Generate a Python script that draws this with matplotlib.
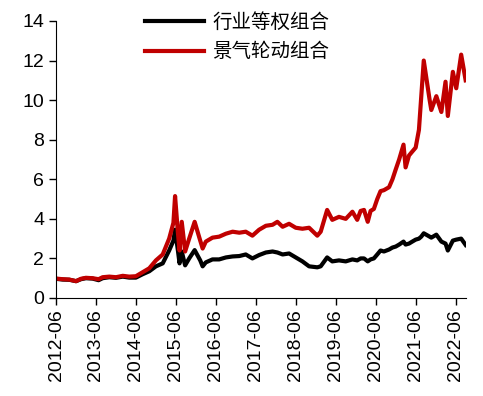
import numpy as np
import pandas as pd
import matplotlib
matplotlib.use("Agg")
import matplotlib.pyplot as plt
import matplotlib.dates as mdates

dates = [
    "2012-06-01", "2012-08-01", "2012-10-01", "2012-12-01", "2013-01-15", "2013-03-01",
    "2013-05-01", "2013-06-25", "2013-08-01", "2013-10-01", "2013-12-01", "2014-02-01",
    "2014-04-01", "2014-06-01", "2014-08-01", "2014-10-01", "2014-12-01", "2015-02-01",
    "2015-04-01", "2015-05-10", "2015-05-25", "2015-06-20", "2015-07-05", "2015-07-25",
    "2015-08-25", "2015-10-01", "2015-11-20", "2016-01-10", "2016-02-01", "2016-03-01",
    "2016-05-01", "2016-07-01", "2016-09-01", "2016-11-01", "2017-01-01", "2017-03-01",
    "2017-05-01", "2017-07-01", "2017-09-01", "2017-11-01", "2017-12-15", "2018-02-01",
    "2018-04-01", "2018-06-01", "2018-08-01", "2018-10-01", "2018-12-15", "2019-01-15",
    "2019-03-15", "2019-05-01", "2019-07-01", "2019-09-01", "2019-11-01", "2019-12-15",
    "2020-01-15", "2020-02-15", "2020-03-20", "2020-04-15", "2020-05-15", "2020-06-15",
    "2020-07-15", "2020-08-15", "2020-10-01", "2020-11-01", "2020-12-01", "2021-01-01",
    "2021-02-10", "2021-03-01", "2021-04-01", "2021-05-01", "2021-06-01", "2021-07-01",
    "2021-07-22", "2021-08-14", "2021-10-07", "2021-10-22", "2021-12-07", "2022-01-22",
    "2022-03-01", "2022-03-22", "2022-05-07", "2022-06-07", "2022-07-22", "2022-09-01",
]

equal_weight = [
    0.97, 0.93, 0.92, 0.85, 0.95, 1.00,
    0.98, 0.90, 1.00, 1.05, 1.02, 1.08,
    1.03, 1.03, 1.20, 1.35, 1.60, 1.75,
    2.40, 2.90, 3.45, 2.40, 1.75, 2.35,
    1.65, 2.00, 2.42, 1.90, 1.60, 1.80,
    1.95, 1.95, 2.05, 2.10, 2.12, 2.20,
    2.00, 2.17, 2.30, 2.35, 2.30, 2.20,
    2.25, 2.05, 1.85, 1.60, 1.55, 1.60,
    2.05, 1.85, 1.90, 1.85, 1.95, 1.90,
    2.00, 2.00, 1.85, 1.95, 2.00, 2.20,
    2.40, 2.35, 2.45, 2.55, 2.60, 2.70,
    2.85, 2.70, 2.75, 2.85, 2.95, 3.00,
    3.10, 3.27, 3.10, 3.05, 3.20, 2.85,
    2.75, 2.40, 2.90, 2.95, 3.00, 2.68,
]

rotation = [
    0.98, 0.95, 0.93, 0.85, 0.97, 1.02,
    1.00, 0.95, 1.05, 1.08, 1.05, 1.12,
    1.08, 1.10, 1.30, 1.50, 1.90, 2.20,
    3.00, 3.80, 5.15, 3.30, 2.40, 3.85,
    2.35, 3.00, 3.85, 2.90, 2.50, 2.85,
    3.05, 3.10, 3.25, 3.35, 3.30, 3.35,
    3.15, 3.45, 3.65, 3.70, 3.85, 3.60,
    3.75, 3.55, 3.50, 3.55, 3.15, 3.35,
    4.45, 3.95, 4.10, 4.00, 4.36, 3.95,
    4.40, 4.45, 3.85, 4.40, 4.50, 5.00,
    5.40, 5.45, 5.60, 6.00, 6.50, 7.00,
    7.75, 6.60, 7.20, 7.40, 7.60, 8.50,
    10.17, 12.00, 10.00, 9.50, 10.20, 9.40,
    10.93, 9.20, 11.43, 10.60, 12.30, 11.00,
]

labels = ["行业等权组合", "景气轮动组合"]
tick_years = list(range(2012, 2023))

x = pd.to_datetime(dates)

plt.rcParams["font.family"] = ["Liberation Sans", "Noto Sans CJK SC"]

fig = plt.figure(figsize=(4.83, 3.96), dpi=100)
ax = fig.add_axes([0.116, 0.2475, 0.849, 0.6995])

ax.plot(x, equal_weight, color="black", lw=3, label=labels[0])
ax.plot(x, rotation, color="#C00000", lw=3, label=labels[1])

ax.set_ylim(0, 14)
ax.set_yticks(range(0, 15, 2))
ax.set_xlim(pd.Timestamp("2012-06-01"), pd.Timestamp("2022-09-05"))
ax.set_xticks([pd.Timestamp(f"{y}-06-01") for y in tick_years])
ax.xaxis.set_major_formatter(mdates.DateFormatter("%Y-%m"))

ax.spines["top"].set_visible(False)
ax.spines["right"].set_visible(False)
ax.tick_params(axis="both", labelsize=14, length=5, width=1, direction="out")
ax.tick_params(axis="x", rotation=90, pad=3)

ax.legend(loc="upper left", bbox_to_anchor=(0.175, 1.097), frameon=False,
          prop={"family": "Noto Sans CJK SC", "size": 14},
          handlelength=3.0, handletextpad=0.45, labelspacing=0.45)

plt.savefig("out.png", dpi=100)
